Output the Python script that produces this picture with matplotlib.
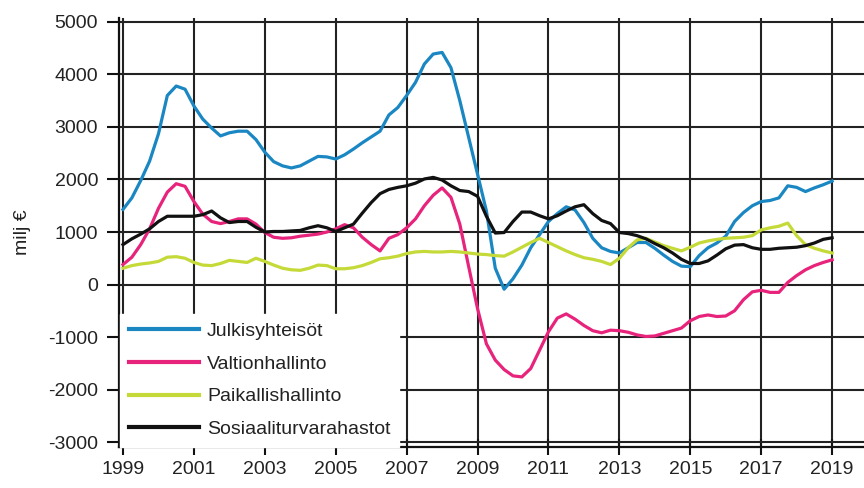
import numpy as np
import matplotlib
matplotlib.use("Agg")
import matplotlib.pyplot as plt

plt.rcParams['font.family'] = ['Liberation Sans', 'DejaVu Sans']
plt.rcParams['axes.unicode_minus'] = False

# Quarterly observations, 1999Q1 .. 2019Q1
quarters = np.arange(1999.0, 2019.01, 0.25)

julkisyhteisot = [
    1430, 1650, 1980, 2350,  2870, 3600, 3780, 3720,  3400, 3150, 2980, 2830,
    2890, 2920, 2920, 2760,  2520, 2340, 2260, 2220,  2260, 2350, 2440, 2430,
    2390, 2470, 2580, 2700,  2810, 2920, 3230, 3370,  3600, 3850, 4200, 4390,
    4420, 4130, 3500, 2800,  2100, 1400, 310, -90,    110, 370, 700, 950,
    1200, 1350, 1480, 1420,  1180, 880, 700, 630,     600, 700, 800, 800,
    690, 560, 440, 350,      340, 550, 700, 790,      920, 1200, 1370, 1500,
    1580, 1600, 1650, 1880,  1850, 1770, 1840, 1900,  1970]

valtionhallinto = [
    380, 520, 760, 1060,     1450, 1760, 1920, 1870,  1580, 1340, 1200, 1160,
    1200, 1250, 1250, 1150,  990, 900, 880, 890,      920, 940, 960, 1000,
    1060, 1140, 1080, 900,   760, 640, 880, 950,      1080, 1250, 1500, 1700,
    1840, 1660, 1150, 340,   -460, -1130, -1440, -1620,  -1740, -1760, -1600, -1250,
    -900, -640, -560, -660,  -780, -880, -920, -870,  -880, -910, -960, -990,
    -980, -930, -880, -830,  -690, -610, -580, -610,  -600, -500, -290, -140,
    -110, -150, -150, 40,    170, 280, 360, 420,      470]

paikallishallinto = [
    310, 360, 390, 410,      440, 520, 530, 500,      420, 370, 360, 400,
    460, 440, 420, 500,      440, 370, 310, 280,      270, 310, 370, 360,
    300, 300, 320, 360,      420, 490, 510, 540,      590, 620, 630, 620,
    620, 630, 620, 600,      580, 570, 550, 540,      620, 710, 800, 880,
    800, 720, 640, 570,      510, 480, 440, 380,      500, 700, 850, 880,
    810, 740, 690, 640,      710, 790, 830, 860,      880, 890, 900, 930,
    1040, 1080, 1110, 1170,  930, 760, 690, 640,      600]

sosiaaliturvarahastot = [
    760, 870, 960, 1060,     1200, 1300, 1300, 1300,  1300, 1330, 1400, 1270,
    1180, 1200, 1200, 1090,  1000, 1010, 1010, 1020,  1030, 1080, 1120, 1080,
    1010, 1080, 1150, 1360,  1560, 1730, 1810, 1850,  1880, 1930, 2010, 2040,
    1990, 1880, 1790, 1770,  1680, 1300, 980, 990,    1200, 1380, 1380, 1310,
    1250, 1310, 1400, 1480,  1520, 1350, 1220, 1160,  990, 970, 930, 870,
    780, 700, 600, 480,      400, 400, 450, 560,      680, 750, 760, 700,
    670, 670, 690, 700,      710, 740, 790, 860,      890]

series_names = ["Julkisyhteisöt", "Valtionhallinto", "Paikallishallinto", "Sosiaaliturvarahastot"]
series_colors = ["#1a87c3", "#e8237c", "#c5da38", "#111111"]

year_ticks = list(range(1999, 2020, 2))
value_ticks = list(range(-3000, 5001, 1000))

fig = plt.figure(figsize=(8.64, 4.88), dpi=100)
ax = fig.add_axes([119/864, (488-447)/488, 1 - 119/864, (447-18)/488])

for vals, name, col in zip([julkisyhteisot, valtionhallinto, paikallishallinto, sosiaaliturvarahastot],
                           series_names, series_colors):
    ax.plot(quarters, vals, color=col, lw=2.3, label=name, zorder=3,
            solid_joinstyle='round')

ax.set_xlim(1998.887, 2019.9)
ax.set_ylim(-3095, 5076)
ax.set_xticks(year_ticks)
ax.set_yticks(value_ticks)
ax.grid(True, color='#222222', lw=1.5, zorder=1)
ax.set_axisbelow(True)

for s in ['top', 'right']:
    ax.spines[s].set_visible(False)
for s in ['left', 'bottom']:
    ax.spines[s].set_color('#111111')
    ax.spines[s].set_linewidth(1.6)

ax.tick_params(axis='x', direction='inout', length=12, width=1.5, color='#111111',
               labelsize=14, labelcolor='#222222', pad=4)
ax.tick_params(axis='y', direction='out', length=9, width=1.5, color='#111111',
               labelsize=14, labelcolor='#222222', pad=6)

ax.set_ylabel("milj €", fontsize=14, color='#222222', labelpad=12)

leg = ax.legend(loc='lower left', bbox_to_anchor=(0.002, 0.0), borderaxespad=0,
                fontsize=14, handlelength=3.6, handletextpad=0.4, labelspacing=0.78,
                borderpad=0.45, frameon=True, fancybox=False)
leg.get_frame().set_facecolor('white')
leg.get_frame().set_edgecolor('white')
leg.get_frame().set_alpha(1.0)
for t in leg.get_texts():
    t.set_color('#222222')
for h in leg.get_lines():
    h.set_linewidth(3.0)
leg.set_zorder(5)

fig.savefig("out.png", dpi=100)
